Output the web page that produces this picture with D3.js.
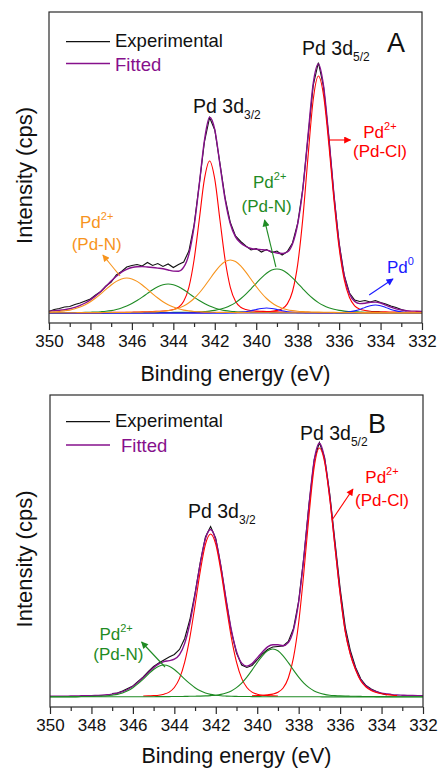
<!DOCTYPE html>
<html>
<head>
<meta charset="utf-8">
<script src="https://cdn.jsdelivr.net/npm/d3@7"></script>
<style>
  html, body { margin: 0; padding: 0; background: #fff; }
  svg { display: block; }
  text { font-family: "Liberation Sans", Arial, Helvetica, sans-serif; }
</style>
</head>
<body>
<svg id="chart" width="440" height="769"></svg>
<script>
// ---------- DATA ----------
const bindingEnergy = [350,349.75,349.5,349.25,349,348.75,348.5,348.25,348,347.75,347.5,347.25,347,346.75,346.5,346.25,346,345.75,345.5,345.25,345,344.75,344.5,344.25,344,343.75,343.5,343.25,343,342.75,342.5,342.25,342,341.75,341.5,341.25,341,340.75,340.5,340.25,340,339.75,339.5,339.25,339,338.75,338.5,338.25,338,337.75,337.5,337.25,337,336.75,336.5,336.25,336,335.75,335.5,335.25,335,334.75,334.5,334.25,334,333.75,333.5,333.25,333,332.75,332.5,332.25,332];

const majorTicks = [350,348,346,344,342,340,338,336,334,332];
const minorTicks = [349,347,345,343,341,339,337,335,333];

// Panel A (cps, arbitrary units)
const A_experimental = [1.5,3.5,4.5,6.0,6.5,8.5,10.0,12.0,14.0,18.0,21.5,27.0,31.0,38.0,41.5,46.0,47.5,48.5,47.0,50.5,47.5,49.5,46.5,49.0,45.5,48.5,51.0,62.0,88.0,128.5,171.0,195.5,183.0,149.5,115.0,90.5,77.0,71.5,67.0,63.0,64.5,61.0,63.5,60.5,62.0,58.0,61.5,70.0,89.5,124.5,176.0,227.5,250.5,226.0,176.5,118.0,70.0,37.5,20.0,13.0,11.5,12.5,11.0,12.5,10.5,9.0,7.0,5.5,3.5,2.0,null,null,null];
const A_fitted = [1.9,2.3,2.7,3.3,4.3,5.6,7.6,10.0,13.2,17.1,21.6,26.7,31.9,36.7,40.8,43.7,45.5,46.3,46.4,46.0,45.5,44.9,44.2,43.0,41.9,41.8,45.8,58.7,86.3,128.3,172.5,195.7,183.3,148.4,113.3,89.2,76.1,69.9,66.5,64.5,63.7,63.4,62.9,61.3,60.0,59.5,61.0,69.0,89.0,124.0,177.5,229.4,249.1,226.8,176.4,118.3,69.4,36.8,19.2,11.6,9.4,9.8,10.7,10.9,10.0,7.9,5.8,4.1,3.0,2.3,1.9,1.8,1.6];
const A_PdCl_52 = [0.1,0.1,0.1,0.1,0.1,0.1,0.1,0.1,0.1,0.1,0.1,0.1,0.2,0.2,0.2,0.2,0.2,0.2,0.2,0.2,0.2,0.2,0.3,0.3,0.3,0.3,0.3,0.3,0.4,0.4,0.4,0.4,0.5,0.5,0.5,0.6,0.6,0.7,0.8,0.9,1.1,1.3,1.5,1.8,2.6,4.3,9.1,21.5,48.4,94.9,156.4,213.2,237,217.6,169.5,113.0,65.2,33.2,15.5,7.2,3.8,2.5,1.8,1.5,1.3,1.1,1.0,0.9,0.8,0.7,0.6,0.6,0.5];
const A_PdCl_32 = [0.3,0.3,0.3,0.3,0.3,0.3,0.4,0.4,0.4,0.4,0.4,0.5,0.6,0.6,0.7,0.7,0.8,0.9,1.1,1.2,1.4,1.7,2.0,2.5,3.5,5.7,11.7,25.7,53.0,93.0,133.8,152,133.8,93.0,53.0,25.7,11.7,5.7,3.5,2.5,2.0,1.7,1.4,1.2,1.1,0.9,0.8,0.7,0.7,0.6,0.6,0.5,0.4,0.4,0.4,0.4,0.4,0.3,0.3,0.3,0.3,0.3,0.3,0.2,0.2,0.2,0.2,0.2,0.2,0.2,0.2,0.2,0.2];
const A_PdN_orange_a = [0.2,0.3,0.3,0.3,0.3,0.3,0.4,0.4,0.4,0.4,0.4,0.45,0.45,0.5,0.55,0.6,0.7,0.8,0.9,1.0,1.1,1.4,1.8,2.4,3.3,4.8,7.0,10.2,14.5,20.0,26.5,33.7,40.8,47.1,51.4,53,51.4,47.1,40.8,33.7,26.5,20.0,14.5,10.2,7.0,4.8,3.3,2.4,1.8,1.4,1.1,1.0,0.9,0.8,0.7,0.6,0.55,0.5,0.45,0.45,0.4,0.35,0.35,0.35,0.35,0.3,0.3,0.3,0.3,0.3,0.3,0.3,0.3];
const A_PdN_orange_b = [0.9,1.2,1.5,2.1,2.9,4.2,5.9,8.3,11.3,15.0,19.2,23.7,28.0,31.6,34.1,35,34.1,31.6,28.0,23.7,19.2,15.0,11.3,8.3,5.9,4.2,2.9,2.1,1.5,1.2,0.9,0.8,0.7,0.6,0.6,0.5,0.4,0.4,0.4,0.3,0.3,0.3,0.3,0.3,0.3,0.3,0.3,0.2,0.2,0.2,0.2,0.2,0.2,0.2,0.2,0.2,0.2,0.2,0.2,0.2,0.2,0.1,0.1,0.1,0.1,0.1,0.1,0.1,0.1,0.1,0.1,0.1,0.1];
const A_PdN_green_a = [0.1,0.1,0.1,0.1,0.2,0.2,0.2,0.2,0.2,0.2,0.2,0.2,0.2,0.3,0.3,0.3,0.3,0.3,0.3,0.3,0.4,0.4,0.5,0.5,0.6,0.6,0.7,0.8,1.0,1.2,1.5,1.9,2.6,3.7,5.3,7.5,10.4,14.3,18.9,24.2,29.7,35.1,39.7,42.9,44,42.9,39.7,35.1,29.7,24.2,18.9,14.3,10.4,7.5,5.3,3.7,2.6,1.9,1.5,1.2,1.0,0.8,0.7,0.6,0.6,0.5,0.5,0.4,0.4,0.3,0.3,0.3,0.3];
const A_PdN_green_b = [0.3,0.3,0.4,0.4,0.45,0.5,0.55,0.6,0.8,1.0,1.3,1.7,2.4,3.5,4.9,6.9,9.4,12.5,15.9,19.6,23.2,26.2,28.3,29,28.3,26.2,23.2,19.6,15.9,12.5,9.4,6.9,4.9,3.5,2.4,1.7,1.3,1.0,0.8,0.6,0.55,0.5,0.45,0.4,0.3,0.3,0.3,0.3,0.2,0.2,0.2,0.2,0.2,0.2,0.2,0.2,0.1,0.1,0.1,0.1,0.1,0.1,0.1,0.1,0.1,0.1,0.1,0.1,0.1,0.1,0.1,0.1,0.1];
const A_Pd0_a = [0,0,0,0,0,0,0,0,0,0,0,0,0,0,0,0,0,0,0,0,0,0,0,0,0,0,0,0,0,0,0,0,0,0,0.1,0.2,0.3,0.7,1.3,2.3,3.5,4.5,5,4.5,3.5,2.3,1.3,0.7,0.3,0.2,0.1,0,0,0,0,0,0,0,0,0,0,0,0,0,0,0,0,0,0,0,0,0,0];
const A_Pd0_b = [0,0,0,0,0,0,0,0,0,0,0,0,0,0,0,0,0,0,0,0,0,0,0,0,0,0,0,0,0,0,0,0,0,0,0,0,0,0,0,0,0,0,0,0,0,0,0,0,0,0,0,0,0,0.1,0.1,0.2,0.3,0.6,1.1,2.1,3.6,5.6,7.3,8,7.3,5.6,3.6,2.1,1.1,0.6,0.3,0.2,0.1];

// Panel B
const B_experimental = [null,null,null,null,null,null,null,null,null,null,null,null,3.5,4.0,6.0,8.5,11.0,15.5,20.0,25.5,30.5,34.0,37.0,40.0,42.5,47.5,58.5,77.5,104.0,134.5,160.0,170.5,158.5,130.5,96.5,65.5,44.0,32.0,29.5,31.5,37.0,43.0,47.5,50.0,50.5,51.0,55.5,68.5,96.0,140.0,193.0,237.5,254.5,239.5,203.0,156.0,109.0,70.0,46.0,29.5,18.0,11.5,8.0,5.5,3.5,2.0,null,null,null,null,null,null,null];
const B_fitted = [0.8,0.8,0.8,0.8,1.0,1.0,1.2,1.3,1.4,1.6,1.8,2.2,2.9,3.8,5.4,7.5,10.7,14.8,19.4,24.5,29.4,33.2,35.4,36.4,37.8,42.3,53.6,73.9,102.2,133.1,158.2,167.5,156.7,130.0,97.2,67.1,45.6,33.9,30.9,33.4,39.1,45.0,50.1,52.3,52.2,51.3,54.4,67.1,95.1,139.2,192.1,236.7,253.7,238.2,200.5,152.3,105.0,66.3,43.2,28.1,17.0,10.9,7.4,5.3,3.9,3.1,2.4,2.0,1.8,1.6,1.5,1.4,1.3];
const B_PdCl_52 = [null,null,null,null,null,null,null,null,null,null,null,null,null,null,null,null,null,null,null,null,null,null,null,null,null,null,null,null,null,null,null,null,null,null,null,null,null,null,null,1.2,1.5,1.7,2.2,2.9,4.7,9.0,19.0,39.3,74.3,124.5,181.9,229.9,249,235.0,198.2,150.4,103.4,64.9,42.0,27.0,16.0,10.0,6.5,4.5,3.2,2.4,1.8,1.5,null,null,null,null,null];
const B_PdCl_32 = [null,null,null,null,null,null,null,null,null,null,null,null,null,null,null,null,null,null,1.0,1.1,1.4,1.8,2.8,4.9,9.5,18.6,34.8,59.6,91.7,125.6,152.6,163,152.6,125.6,91.7,59.6,34.8,18.6,9.5,4.9,2.8,1.8,1.4,1.1,1.0,null,null,null,null,null,null,null,null,null,null,null,null,null,null,null,null,null,null,null,null,null,null,null,null,null,null,null,null];
const B_PdN_a = [0.1,0.1,0.1,0.1,0.1,0.1,0.2,0.2,0.2,0.2,0.2,0.2,0.2,0.2,0.2,0.2,0.2,0.3,0.3,0.3,0.3,0.4,0.4,0.4,0.5,0.5,0.6,0.7,0.8,0.9,1.1,1.4,1.8,2.6,4.0,6.1,9.4,13.9,19.9,26.9,34.4,41.2,46.2,48,46.2,41.2,34.4,26.9,19.9,13.9,9.4,6.1,4.0,2.6,1.8,1.4,1.1,0.9,0.8,0.7,0.6,0.5,0.5,0.4,0.4,0.4,0.3,0.3,0.3,0.3,0.3,0.2,0.2];
const B_PdN_b = [0.3,0.3,0.3,0.3,0.4,0.4,0.5,0.5,0.6,0.7,0.9,1.2,1.8,2.6,4.1,6.2,9.3,13.3,17.9,22.9,27.5,30.8,32,30.8,27.5,22.9,17.9,13.3,9.3,6.2,4.1,2.6,1.8,1.2,0.9,0.7,0.6,0.5,0.5,0.4,0.4,0.3,0.3,0.3,0.3,0.2,0.2,0.2,0.2,0.2,0.2,0.2,0.2,0.1,0.1,0.1,0.1,0.1,0.1,0.1,0.1,0.1,0.1,0.1,0.1,0.1,0.1,0.1,0.1,0.1,0.1,0.1,0.1];

// ---------- STYLE ----------
const C = {
  exp: "#111111", fit: "#86108c", red: "#ff0000", green: "#1f8b24",
  orange: "#f7941d", blue: "#1a1aff", frame: "#2a2a2a"
};
const FONT = '"Liberation Sans", Arial, Helvetica, sans-serif';

const svg = d3.select("#chart");
const defs = svg.append("defs");
function marker(id, color) {
  defs.append("marker").attr("id", id)
    .attr("viewBox", "0 0 10 10").attr("refX", 9).attr("refY", 5)
    .attr("markerWidth", 8).attr("markerHeight", 7)
    .attr("markerUnits", "userSpaceOnUse").attr("orient", "auto")
    .append("path").attr("d", "M0,0 L10,5 L0,10 z").attr("fill", color);
}
marker("arrRed", C.red); marker("arrGreen", C.green);
marker("arrOrange", C.orange); marker("arrBlue", C.blue);

function panel(cfg) {
  const { x, y, top, bottom, left, right } = cfg;
  const g = svg.append("g");

  const lineSmooth = d3.line()
    .defined(d => d[1] != null)
    .x(d => x(d[0])).y(d => y(d[1]))
    .curve(d3.curveMonotoneX);
  const lineRaw = d3.line()
    .defined(d => d[1] != null)
    .x(d => x(d[0])).y(d => y(d[1]));

  const pairs = arr => bindingEnergy.map((e, i) => [e, arr[i]]);

  g.append("path").attr("d", lineRaw(pairs(cfg.experimental)))
    .attr("fill", "none").attr("stroke", C.exp).attr("stroke-width", 1.1);
  g.append("path").attr("d", lineSmooth(pairs(cfg.fitted)))
    .attr("fill", "none").attr("stroke", C.fit).attr("stroke-width", 1.4);
  cfg.components.forEach(c => {
    g.append("path").attr("d", lineSmooth(pairs(c.values)))
      .attr("fill", "none").attr("stroke", c.color).attr("stroke-width", 1.1);
  });

  g.append("rect").attr("x", left).attr("y", top)
    .attr("width", right - left).attr("height", bottom - top)
    .attr("fill", "none").attr("stroke", C.frame).attr("stroke-width", 1.2);

  const ax = g.append("g").attr("transform", `translate(0,${bottom})`)
    .call(d3.axisBottom(x).tickValues(majorTicks).tickSize(7).tickPadding(5).tickFormat(d3.format("d")));
  ax.select(".domain").remove();
  ax.attr("font-size", 17).attr("font-family", FONT);
  ax.selectAll("line").attr("stroke", C.frame).attr("stroke-width", 1.2);
  ax.selectAll("text").attr("fill", "#111");
  const axm = g.append("g").attr("transform", `translate(0,${bottom})`)
    .call(d3.axisBottom(x).tickValues(minorTicks).tickSize(4).tickFormat(""));
  axm.select(".domain").remove();
  axm.selectAll("line").attr("stroke", C.frame).attr("stroke-width", 1.2);

  g.append("text").attr("x", (left + right) / 2).attr("y", cfg.xTitleY)
    .attr("text-anchor", "middle").attr("font-size", 21.5).attr("fill", "#111")
    .text("Binding energy (eV)");
  g.append("text").attr("transform", `translate(32,${(top + bottom) / 2 + 8}) rotate(-90)`)
    .attr("text-anchor", "middle").attr("font-size", 22).attr("fill", "#111")
    .text("Intensity (cps)");

  const L = cfg.legend;
  g.append("line").attr("x1", 66).attr("x2", 110).attr("y1", L.y1).attr("y2", L.y1)
    .attr("stroke", C.exp).attr("stroke-width", 1.2);
  g.append("text").attr("x", 115).attr("y", L.y1 + 5.5).attr("font-size", 18.5).attr("fill", "#111").text("Experimental");
  g.append("line").attr("x1", 66).attr("x2", 110).attr("y1", L.y2).attr("y2", L.y2)
    .attr("stroke", C.fit).attr("stroke-width", 1.4);
  g.append("text").attr("x", L.fitX).attr("y", L.y2 + 7).attr("font-size", 18.5).attr("fill", C.fit).text("Fitted");

  g.append("text").attr("x", x(cfg.letter.e)).attr("y", y(cfg.letter.h))
    .attr("font-size", 27).attr("fill", "#111").text(cfg.letter.t);

  cfg.peaks.forEach(p => {
    const t = g.append("text").attr("x", x(p.e)).attr("y", y(p.h)).attr("font-size", 19.5).attr("fill", "#111");
    t.append("tspan").text("Pd 3d");
    t.append("tspan").attr("font-size", 12).attr("dy", 6).text(p.sub);
  });

  cfg.species.forEach(s => {
    const t1 = g.append("text").attr("x", x(s.e)).attr("y", y(s.h1))
      .attr("text-anchor", s.anchor || "middle").attr("font-size", 17).attr("fill", s.color);
    t1.append("tspan").text("Pd");
    t1.append("tspan").attr("font-size", 11).attr("dy", -8).text(s.sup);
    if (s.line2) {
      g.append("text").attr("x", x(s.e2 != null ? s.e2 : s.e)).attr("y", y(s.h2))
        .attr("text-anchor", "middle").attr("font-size", 17).attr("fill", s.color).text(s.line2);
    }
    g.append("line")
      .attr("x1", x(s.arrow[0])).attr("y1", y(s.arrow[1]))
      .attr("x2", x(s.arrow[2])).attr("y2", y(s.arrow[3]))
      .attr("stroke", s.color).attr("stroke-width", 1.1)
      .attr("marker-end", `url(#${s.marker})`);
  });
}

// ---------- PANEL A ----------
panel({
  x: d3.scaleLinear().domain([350, 332]).range([49, 422]),
  y: d3.scaleLinear().domain([-10, 301]).range([323, 12]),
  top: 12, bottom: 323, left: 49, right: 422, xTitleY: 381,
  experimental: A_experimental, fitted: A_fitted,
  components: [
    { values: A_PdCl_52, color: C.red },
    { values: A_PdCl_32, color: C.red },
    { values: A_PdN_green_a, color: C.green },
    { values: A_PdN_green_b, color: C.green },
    { values: A_Pd0_a, color: C.blue },
    { values: A_Pd0_b, color: C.blue },
    { values: A_PdN_orange_a, color: C.orange },
    { values: A_PdN_orange_b, color: C.orange }
  ],
  legend: { y1: 41.7, y2: 63.5, fitX: 115 },
  letter: { t: "A", e: 333.69, h: 261 },
  peaks: [ { e: 337.79, h: 258, sub: "5/2" }, { e: 343.05, h: 200, sub: "3/2" } ],
  species: [
    { color: C.red, sup: "2+", e: 334.03, h1: 175, line2: "(Pd-Cl)", h2: 156,
      arrow: [336.53, 173, 335.45, 173], marker: "arrRed" },
    { color: C.green, sup: "2+", e: 339.35, h1: 125, line2: "(Pd-N)", e2: 339.5, h2: 101,
      arrow: [339.05, 46, 339.6, 93], marker: "arrGreen" },
    { color: C.orange, sup: "2+", e: 347.7, h1: 85, line2: "(Pd-N)", h2: 63,
      arrow: [346.57, 37, 347.4, 58], marker: "arrOrange" },
    { color: C.blue, sup: "0", e: 333.69, h1: 40, anchor: "start",
      arrow: [334.55, 18, 333.4, 34], marker: "arrBlue" }
  ]
});

// ---------- PANEL B ----------
panel({
  x: d3.scaleLinear().domain([350, 332]).range([50, 423]),
  y: d3.scaleLinear().domain([-10, 302]).range([707, 395]),
  top: 395, bottom: 707, left: 50, right: 423, xTitleY: 763,
  experimental: B_experimental, fitted: B_fitted,
  components: [
    { values: B_PdCl_52, color: C.red },
    { values: B_PdCl_32, color: C.red },
    { values: B_PdN_a, color: C.green },
    { values: B_PdN_b, color: C.green }
  ],
  legend: { y1: 421.7, y2: 445, fitX: 121 },
  letter: { t: "B", e: 334.65, h: 264 },
  peaks: [ { e: 337.94, h: 257, sub: "5/2" }, { e: 343.34, h: 179, sub: "3/2" } ],
  species: [
    { color: C.red, sup: "2+", e: 333.98, h1: 214, line2: "(Pd-Cl)", h2: 191,
      arrow: [336.39, 177, 335.38, 208], marker: "arrRed" },
    { color: C.green, sup: "2+", e: 346.81, h1: 57, line2: "(Pd-N)", e2: 346.7, h2: 37,
      arrow: [344.45, 30, 345.58, 55], marker: "arrGreen" }
  ]
});
</script>
</body>
</html>
